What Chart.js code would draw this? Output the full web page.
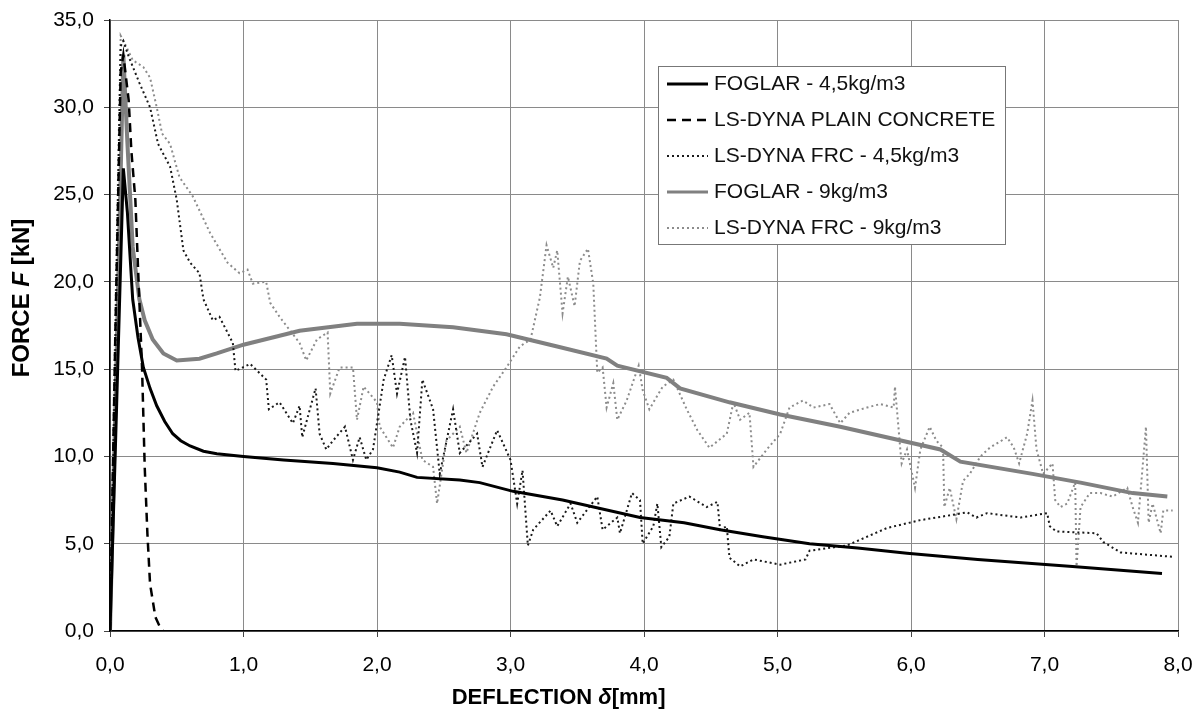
<!DOCTYPE html>
<html>
<head>
<meta charset="utf-8">
<script src="https://cdn.jsdelivr.net/npm/chart.js@4.4.0/dist/chart.umd.min.js"></script>
<style>
  body { margin: 0; background: #fff; }
</style>
</head>
<body>
<canvas id="forceChart" width="1198" height="718"></canvas>
<script>
// Nadgradnje: deflection [mm] vs force [kN]
const xTicks = [0, 1, 2, 3, 4, 5, 6, 7, 8];
const yTicks = [0, 5, 10, 15, 20, 25, 30, 35];

const foglar45X = [0, 0.05, 0.1, 0.13, 0.17, 0.21, 0.25, 0.3, 0.35, 0.41, 0.47, 0.53, 0.6, 0.7, 0.8, 1.0, 1.3, 1.67, 2.0, 2.17, 2.3, 2.62, 2.77, 3.02, 3.39, 3.97, 4.3, 4.57, 4.89, 5.24, 5.6, 5.97, 6.5, 7.21, 7.88];
const foglar45Y = [0, 13, 26.5, 24, 19, 16.8, 15.1, 13.9, 12.9, 12.0, 11.3, 10.9, 10.6, 10.3, 10.15, 10.0, 9.8, 9.6, 9.35, 9.1, 8.8, 8.65, 8.5, 8.0, 7.5, 6.5, 6.2, 5.8, 5.4, 5.0, 4.75, 4.45, 4.1, 3.7, 3.3];

const plainX = [0, 0.04, 0.08, 0.1, 0.14, 0.16, 0.19, 0.21, 0.24, 0.26, 0.28, 0.30, 0.34, 0.37, 0.40];
const plainY = [0, 17, 32, 33, 30.4, 27.5, 24.7, 20.8, 15.1, 9.4, 5.6, 2.7, 0.8, 0.3, 0];

const frc45X = [0, 0.04, 0.08, 0.1, 0.14, 0.22, 0.30, 0.36, 0.45, 0.50, 0.55, 0.60, 0.67, 0.70, 0.77, 0.82, 0.92, 0.94, 1.05, 1.17,
  1.19, 1.27, 1.37, 1.42, 1.44, 1.54, 1.57, 1.62, 1.67, 1.76, 1.82, 1.87, 1.92, 1.97, 2.05, 2.11, 2.15, 2.21, 2.25, 2.30,
  2.34, 2.42, 2.47, 2.57, 2.62, 2.75, 2.79, 2.90, 3.0, 3.05, 3.09, 3.13, 3.17, 3.30, 3.35, 3.45, 3.50, 3.65, 3.69, 3.80,
  3.82, 3.91, 3.97, 3.99, 4.07, 4.10, 4.13, 4.19, 4.22, 4.34, 4.47, 4.55, 4.57, 4.62, 4.64, 4.72, 4.82, 5.02, 5.21, 5.24,
  5.52, 5.82, 6.07, 6.27, 6.42, 6.49, 6.57, 6.82, 7.02, 7.04, 7.09, 7.39, 7.44, 7.57, 7.96];
const frc45Y = [0, 16, 33.5, 33.8, 32.9, 31.4, 30.0, 27.9, 26.6, 24.7, 21.8, 21.1, 20.5, 19.0, 17.8, 18.0, 16.5, 14.9, 15.3, 14.4,
  12.7, 13.1, 11.9, 12.9, 11.1, 13.9, 11.3, 10.4, 10.9, 11.7, 9.8, 11.1, 9.8, 10.4, 14.4, 15.8, 13.6, 15.7, 12.1, 10.2,
  14.4, 12.7, 9.0, 12.7, 10.2, 11.3, 9.4, 11.5, 9.8, 7.3, 9.2, 4.9, 5.8, 6.9, 6.0, 7.3, 6.2, 7.7, 5.8, 6.5,
  5.6, 7.9, 7.5, 5.0, 6.0, 7.3, 4.8, 5.4, 7.3, 7.7, 7.1, 7.4, 5.8, 6.0, 4.2, 3.7, 4.1, 3.8, 4.1, 4.6,
  4.9, 5.9, 6.35, 6.6, 6.8, 6.5, 6.75, 6.5, 6.75, 6.0, 5.7, 5.6, 5.1, 4.5, 4.25];

const foglar9X = [0, 0.05, 0.1, 0.13, 0.17, 0.22, 0.26, 0.32, 0.4, 0.5, 0.67, 0.8, 1.0, 1.42, 1.85, 2.17, 2.57, 2.97, 3.35, 3.72,
  3.80, 4.17, 4.27, 4.64, 5.02, 5.47, 6.22, 6.37, 6.91, 7.27, 7.66, 7.92];
const foglar9Y = [0, 16, 33, 28, 22, 19.0, 17.8, 16.7, 15.9, 15.5, 15.6, 15.9, 16.4, 17.2, 17.6, 17.6, 17.4, 17.0, 16.3, 15.6,
  15.2, 14.5, 13.9, 13.1, 12.4, 11.7, 10.4, 9.7, 9.0, 8.5, 7.9, 7.7];

const frc9X = [0, 0.04, 0.08, 0.12, 0.17, 0.25, 0.30, 0.35, 0.39, 0.45, 0.52, 0.62, 0.75, 0.88, 0.97, 1.03, 1.07, 1.17, 1.20, 1.27,
  1.35, 1.42, 1.47, 1.55, 1.63, 1.65, 1.72, 1.82, 1.85, 1.90, 2.0, 2.02, 2.12, 2.17, 2.27, 2.34, 2.42, 2.45, 2.52, 2.62,
  2.67, 2.77, 2.87, 2.97, 3.07, 3.15, 3.22, 3.27, 3.32, 3.35, 3.39, 3.43, 3.48, 3.52, 3.58, 3.62, 3.65, 3.69, 3.72, 3.77,
  3.80, 3.87, 3.96, 3.99, 4.04, 4.14, 4.22, 4.32, 4.40, 4.49, 4.62, 4.67, 4.72, 4.79, 4.82, 4.92, 5.02, 5.09, 5.19, 5.27,
  5.39, 5.47, 5.54, 5.67, 5.77, 5.87, 5.88, 5.92, 5.93, 5.97, 6.03, 6.07, 6.14, 6.19, 6.24, 6.25, 6.29, 6.34, 6.39, 6.44,
  6.52, 6.59, 6.72, 6.77, 6.81, 6.87, 6.91, 6.94, 6.99, 7.06, 7.08, 7.12, 7.17, 7.23, 7.24, 7.27, 7.34, 7.42, 7.51, 7.62,
  7.66, 7.70, 7.76, 7.78, 7.81, 7.87, 7.89, 7.96];
const frc9Y = [0, 18, 34.1, 33.5, 32.7, 32.3, 31.7, 30.0, 28.5, 27.9, 26.0, 24.9, 22.8, 21.1, 20.5, 20.7, 19.9, 20.0, 18.8, 18.0,
  17.2, 16.5, 15.5, 16.7, 17.1, 13.6, 15.1, 15.1, 12.1, 14.0, 13.1, 11.7, 10.5, 11.7, 12.5, 9.8, 9.4, 7.3, 10.9, 11.7,
  10.2, 12.5, 14.0, 15.1, 16.3, 16.7, 19.1, 22.1, 20.8, 21.8, 18.2, 20.3, 18.6, 21.2, 21.9, 19.9, 14.8, 15.1, 12.8, 14.2,
  12.1, 13.2, 15.2, 13.8, 12.7, 14.0, 14.4, 12.7, 11.5, 10.5, 11.3, 13.1, 12.1, 12.5, 9.4, 10.4, 11.3, 12.8, 13.2, 12.8,
  13.0, 11.9, 12.5, 12.8, 13.0, 12.8, 14.0, 10.4, 9.6, 10.4, 8.2, 10.4, 11.7, 10.9, 10.5, 7.1, 8.2, 6.4, 8.6, 9.0,
  10.0, 10.5, 11.1, 10.5, 9.6, 11.3, 13.2, 10.4, 9.0, 9.6, 7.5, 7.1, 7.3, 8.5, 3.7, 7.1, 7.9, 7.9, 7.7, 8.2,
  7.1, 6.2, 11.7, 6.2, 7.3, 5.6, 6.9, 6.9];

const toPoints = (xs, ys) => xs.map((x, i) => ({ x: x, y: ys[i] }));
const fmt = v => v.toFixed(1).replace('.', ',');
const FONT = '"Liberation Sans", Arial, sans-serif';

// legenda v okvirju znotraj grafa
const legendBox = {
    id: 'legendBox',
    afterDatasetsDraw(chart) {
        const ctx = chart.ctx;
        const a = chart.chartArea;
        const x = a.left + 548, y = a.top + 46, w = 347, h = 178;
        ctx.save();
        ctx.fillStyle = '#fff';
        ctx.fillRect(x, y, w, h);
        ctx.strokeStyle = '#777';
        ctx.lineWidth = 1;
        ctx.strokeRect(x + 0.5, y + 0.5, w, h);
        ctx.font = '21px ' + FONT;
        ctx.textBaseline = 'middle';
        chart.data.datasets.forEach((ds, i) => {
            const cy = y + 18 + i * 36;
            ctx.beginPath();
            ctx.setLineDash(ds.borderDash || []);
            ctx.strokeStyle = ds.borderColor;
            ctx.lineWidth = Math.min(ds.borderWidth, 3);
            ctx.moveTo(x + 9, cy);
            ctx.lineTo(x + 50, cy);
            ctx.stroke();
            ctx.setLineDash([]);
            ctx.fillStyle = '#111';
            ctx.fillText(ds.label, x + 56, cy);
        });
        ctx.restore();
    }
};

// naslova osi (delno v kurzivi)
function drawParts(ctx, parts, cx, cy) {
    let total = 0;
    parts.forEach(p => { ctx.font = p.font; total += ctx.measureText(p.text).width; });
    let px = cx - total / 2;
    parts.forEach(p => {
        ctx.font = p.font;
        ctx.fillText(p.text, px, cy);
        px += ctx.measureText(p.text).width;
    });
}

const axisTitles = {
    id: 'axisTitles',
    afterDraw(chart) {
        const ctx = chart.ctx;
        const a = chart.chartArea;
        ctx.save();
        ctx.fillStyle = '#000';
        ctx.textBaseline = 'middle';
        drawParts(ctx, [
            { text: 'DEFLECTION ', font: 'bold 22px ' + FONT },
            { text: 'δ', font: 'italic bold 22px ' + FONT },
            { text: '[mm]', font: 'bold 22px ' + FONT }
        ], a.left + a.width * 0.42, a.bottom + 67);
        ctx.translate(22, a.top + a.height * 0.455);
        ctx.rotate(-Math.PI / 2);
        drawParts(ctx, [
            { text: 'FORCE ', font: 'bold 24px ' + FONT },
            { text: 'F', font: 'italic bold 24px ' + FONT },
            { text: ' [kN]', font: 'bold 24px ' + FONT }
        ], 0, 0);
        ctx.restore();
    }
};

const ctx = document.getElementById('forceChart').getContext('2d');
const forceChart = new Chart(ctx, {
    type: 'line',
    data: {
        datasets: [{
            label: 'FOGLAR - 4,5kg/m3',
            data: toPoints(foglar45X, foglar45Y),
            borderColor: '#000000',
            borderWidth: 3
        }, {
            label: 'LS-DYNA PLAIN CONCRETE',
            data: toPoints(plainX, plainY),
            borderColor: '#000000',
            borderWidth: 2.5,
            borderDash: [9, 6]
        }, {
            label: 'LS-DYNA FRC - 4,5kg/m3',
            data: toPoints(frc45X, frc45Y),
            borderColor: '#1a1a1a',
            borderWidth: 2,
            borderDash: [2, 3]
        }, {
            label: 'FOGLAR - 9kg/m3',
            data: toPoints(foglar9X, foglar9Y),
            borderColor: '#808080',
            borderWidth: 4
        }, {
            label: 'LS-DYNA FRC - 9kg/m3',
            data: toPoints(frc9X, frc9Y),
            borderColor: '#8c8c8c',
            borderWidth: 2,
            borderDash: [2, 3]
        }]
    },
    options: {
        responsive: false,
        animation: false,
        events: [],
        layout: { padding: { top: 20, right: 4, left: 0, bottom: 0 } },
        elements: {
            point: { radius: 0 },
            line: { tension: 0, fill: false }
        },
        plugins: {
            legend: { display: false },
            tooltip: { enabled: false }
        },
        scales: {
            x: {
                type: 'linear',
                min: 0,
                max: 8,
                afterBuildTicks: s => { s.ticks = xTicks.map(v => ({ value: v })); },
                afterFit: s => { s.height = 87; s.paddingRight = 20; },
                ticks: {
                    callback: v => fmt(v),
                    color: '#000',
                    font: { size: 21, family: FONT },
                    padding: 16,
                    maxRotation: 0
                },
                grid: { color: '#8a8a8a', lineWidth: 1, tickLength: 6, tickColor: '#444' },
                border: { color: '#000', width: 1.5 }
            },
            y: {
                min: 0,
                max: 35,
                afterBuildTicks: s => { s.ticks = yTicks.map(v => ({ value: v })); },
                afterFit: s => { s.width = 110; s.paddingTop = 0; },
                ticks: {
                    callback: v => fmt(v),
                    color: '#000',
                    font: { size: 21, family: FONT },
                    padding: 10
                },
                grid: { color: '#8a8a8a', lineWidth: 1, tickLength: 6, tickColor: '#444' },
                border: { color: '#000', width: 1.5 }
            }
        }
    },
    plugins: [legendBox, axisTitles]
});
</script>
</body>
</html>
